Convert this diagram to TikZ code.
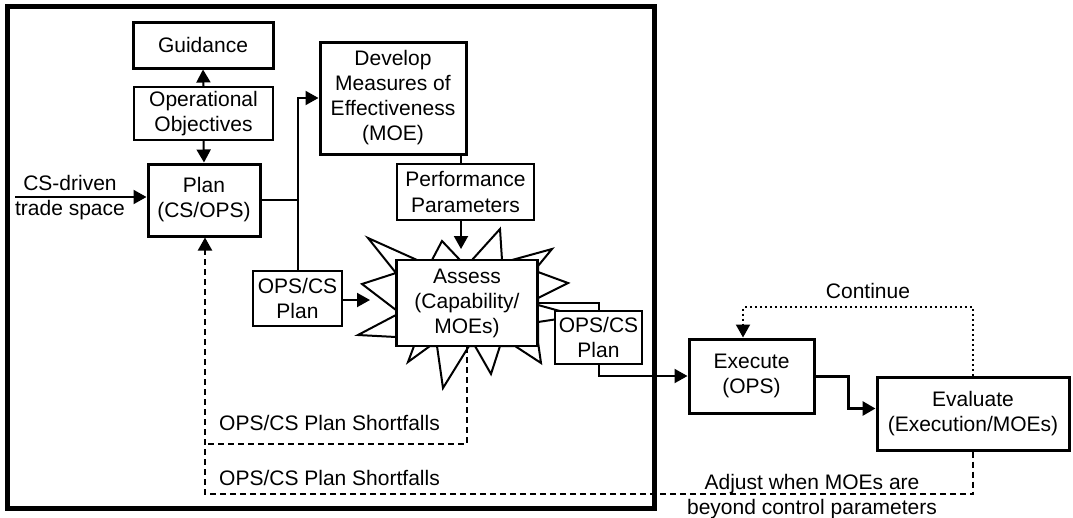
\documentclass[tikz,border=0pt]{standalone}
\usepackage{fontspec}
\setmainfont{Liberation Sans}
\usetikzlibrary{arrows.meta}
\begin{document}
\begin{tikzpicture}[x=1pt,y=-1pt,
  txt/.style={font=\fontsize{21}{25}\selectfont, inner sep=0pt, align=center},
  box/.style={txt, draw, fill=white, line width=2pt},
  thickbox/.style={box, line width=3pt},
  arr/.style={-{Triangle[length=13pt,width=14pt]}},
  conn/.style={line width=2pt},
  dsh/.style={conn, dash pattern=on 6pt off 4pt},
  dot/.style={conn, dash pattern=on 2pt off 3pt}
]
\useasboundingbox (0,0) rectangle (1073,517);
% outer frame
\draw[line width=5pt] (7,6.5) rectangle (654,508);

% starburst behind Assess
\draw[line width=2pt, fill=white, line join=miter]
  (396,273) -- (368,238) -- (417,260) -- (432,260) -- (442,241) -- (460,260)
  -- (472,260) -- (500,229) -- (502,260) -- (512,260) -- (552,249) -- (538,266)
  -- (538,272) -- (568,283) -- (538,298) -- (538,305) -- (578,316) -- (538,322)
  -- (538,342) -- (541,363) -- (515,346) -- (500,346) -- (491,374) -- (475,346)
  -- (469,346) -- (443,388) -- (437,346) -- (430,346) -- (408,362) -- (414,346)
  -- (396,337) -- (358,335) -- (396,315) -- (396,310) -- (362,284) -- cycle;

% nodes
\node[thickbox, minimum width=140pt, minimum height=46pt] (guid) at (203,45) {Guidance};
\node[box, minimum width=139pt, minimum height=53pt] (obj) at (203.5,113.5) {Operational\\Objectives};
\node[thickbox, minimum width=112pt, minimum height=72pt] (plan) at (204,200) {Plan\\(CS/OPS)};
\node[thickbox, minimum width=146pt, minimum height=112pt] (dev) at (393,98) {Develop\\Measures of\\Effectiveness\\(MOE)};
\node[box, minimum width=137pt, minimum height=56pt] (perf) at (465.5,192) {Performance\\Parameters};
\node[box, line width=2.5pt, minimum width=141pt, minimum height=86pt] (assess) at (467,303) {Assess\\(Capability/\\MOEs)};
\node[box, minimum width=89pt, minimum height=55pt] (opsL) at (297.5,298.5) {OPS/CS\\Plan};
\node[box, minimum width=87pt, minimum height=53pt] (opsR) at (598.5,337.5) {OPS/CS\\Plan};
\node[thickbox, minimum width=125pt, minimum height=74pt] (exec) at (751.5,376) {Execute\\(OPS)};
\node[thickbox, minimum width=192pt, minimum height=73pt] (eval) at (973,413.5) {Evaluate\\(Execution/MOEs)};

% labels
\node[txt, anchor=base] (csl) at (70,215) {CS-driven\\trade space};
\node[txt, anchor=base] (contl) at (868,298) {Continue};
\node[txt, anchor=base west] (sf1) at (219,430) {OPS/CS Plan Shortfalls};
\node[txt, anchor=base west] (sf2) at (219,485) {OPS/CS Plan Shortfalls};
\node[txt, anchor=base] (adj) at (812,514) {Adjust when MOEs are\\beyond control parameters};

% coordinates
\coordinate (csin) at (15,197);
\coordinate (dp) at (461,0);
\coordinate (startop) at (461,249);
\coordinate (starleft) at (370,300);
\coordinate (ee) at (848,0);
\coordinate (ct) at (0,307);
\coordinate (sfa) at (205,444);
\coordinate (sfb) at (205,494);

% connectors
\draw[conn, arr] (obj.north) -- (guid.south);
\draw[conn, arr] (obj.south) -- (plan.north);
\draw[conn, arr] (csin) -- (csin -| plan.west);
\draw[conn] (plan.east) -- (plan.east -| opsL.north);
\draw[conn, arr] (opsL.north) |- (dev.west);
\draw[conn] (dev.south -| dp) -- (perf.north -| dp);
\draw[conn, arr] (perf.south -| dp) -- (startop);
\draw[conn, arr] (opsL.east |- starleft) -- (starleft);
\draw[conn] (assess.east) -| (opsR.north);
\draw[conn, arr] (opsR.south) |- (exec.west);
\draw[line width=3pt, arr] (exec.east) -- (exec.east -| ee) |- ([yshift=5pt]eval.west);
\draw[dot, arr] (eval.north) -- (eval.north |- ct) -| ([xshift=-8.5pt]exec.north);
\draw[dsh] (assess.south) |- (sfa);
\draw[dsh, arr] (eval.south) -- (eval.south |- sfb) -- (sfb) -- (plan.south -| sfb);
\end{tikzpicture}
\end{document}
